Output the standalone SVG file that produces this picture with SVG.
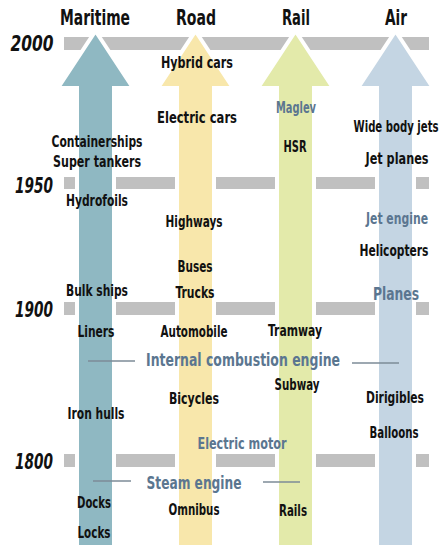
<svg xmlns="http://www.w3.org/2000/svg" width="442" height="545" viewBox="0 0 442 545">
<style>
text{font-family:"DejaVu Sans Condensed","DejaVu Sans",sans-serif;font-weight:bold;text-anchor:middle}
.t{font-size:21px;fill:#111}
.y{font-size:21px;font-style:italic;fill:#111}
.i{font-size:15px;fill:#111}
.e{fill:#5b7690}
.bar{fill:#c0c0c0}
.ar{stroke:#fff;stroke-width:4;stroke-linejoin:miter}
.ln{stroke:#7d8b97;stroke-width:1.5}
</style>
<rect width="442" height="545" fill="#fff"/>
<g id="timeline">
<rect class="bar" x="64" y="37" width="365" height="13"/>
<rect class="bar" x="64" y="177" width="365" height="12"/>
<rect class="bar" x="64" y="302" width="365" height="13"/>
<rect class="bar" x="64" y="454" width="365" height="13"/>
<text class="y" x="32" y="51" textLength="43" lengthAdjust="spacingAndGlyphs">2000</text>
<text class="y" x="34" y="193" textLength="38" lengthAdjust="spacingAndGlyphs">1950</text>
<text class="y" x="34" y="317" textLength="38" lengthAdjust="spacingAndGlyphs">1900</text>
<text class="y" x="34" y="469" textLength="38" lengthAdjust="spacingAndGlyphs">1800</text>
</g>
<g id="maritime">
<polygon class="ar" fill="#8fb8c2" points="95.5,31 133,88 114,88 114,547 77,547 77,88 58,88"/>
<text class="t" x="95" y="25" textLength="70" lengthAdjust="spacingAndGlyphs">Maritime</text>
<text class="i" x="97" y="147" textLength="91" lengthAdjust="spacingAndGlyphs">Containerships</text>
<text class="i" x="97" y="167" textLength="88" lengthAdjust="spacingAndGlyphs">Super tankers</text>
<text class="i" x="97" y="206" textLength="62" lengthAdjust="spacingAndGlyphs">Hydrofoils</text>
<text class="i" x="97" y="296" textLength="62" lengthAdjust="spacingAndGlyphs">Bulk ships</text>
<text class="i" x="96" y="337" textLength="37" lengthAdjust="spacingAndGlyphs">Liners</text>
<text class="i" x="96" y="419" textLength="57" lengthAdjust="spacingAndGlyphs">Iron hulls</text>
<text class="i" x="94" y="508" textLength="34" lengthAdjust="spacingAndGlyphs">Docks</text>
<text class="i" x="94" y="538" textLength="33" lengthAdjust="spacingAndGlyphs">Locks</text>
</g>
<g id="road">
<polygon class="ar" fill="#f8e7ab" points="195.5,31 233,88 214,88 214,547 177,547 177,88 158,88"/>
<text class="t" x="196" y="25" textLength="40" lengthAdjust="spacingAndGlyphs">Road</text>
<text class="i" x="197" y="68" textLength="72" lengthAdjust="spacingAndGlyphs">Hybrid cars</text>
<text class="i" x="197" y="123" textLength="80" lengthAdjust="spacingAndGlyphs">Electric cars</text>
<text class="i" x="194" y="227" textLength="57" lengthAdjust="spacingAndGlyphs">Highways</text>
<text class="i" x="195" y="272" textLength="35" lengthAdjust="spacingAndGlyphs">Buses</text>
<text class="i" x="195" y="298" textLength="39" lengthAdjust="spacingAndGlyphs">Trucks</text>
<text class="i" x="194" y="337" textLength="67" lengthAdjust="spacingAndGlyphs">Automobile</text>
<text class="i" x="194" y="404" textLength="50" lengthAdjust="spacingAndGlyphs">Bicycles</text>
<text class="i" x="194" y="515" textLength="51" lengthAdjust="spacingAndGlyphs">Omnibus</text>
</g>
<g id="rail">
<polygon class="ar" fill="#e3eaaa" points="295.5,31 333,88 314,88 314,547 277,547 277,88 258,88"/>
<text class="t" x="296" y="25" textLength="28" lengthAdjust="spacingAndGlyphs">Rail</text>
<text class="i e" x="296" y="113" textLength="40" lengthAdjust="spacingAndGlyphs">Maglev</text>
<text class="i" x="295" y="152" textLength="23" lengthAdjust="spacingAndGlyphs">HSR</text>
<text class="i" x="295" y="336" textLength="54" lengthAdjust="spacingAndGlyphs">Tramway</text>
<text class="i" x="297" y="390" textLength="45" lengthAdjust="spacingAndGlyphs">Subway</text>
<text class="i" x="293" y="516" textLength="28" lengthAdjust="spacingAndGlyphs">Rails</text>
</g>
<g id="air">
<polygon class="ar" fill="#c4d5e3" points="395.5,31 433,88 414,88 414,547 377,547 377,88 358,88"/>
<text class="t" x="396" y="25" textLength="22" lengthAdjust="spacingAndGlyphs">Air</text>
<text class="i" x="396" y="132" textLength="85" lengthAdjust="spacingAndGlyphs">Wide body jets</text>
<text class="i" x="397" y="164" textLength="63" lengthAdjust="spacingAndGlyphs">Jet planes</text>
<text class="i e" x="397" y="224" textLength="62" lengthAdjust="spacingAndGlyphs">Jet engine</text>
<text class="i" x="394" y="256" textLength="69" lengthAdjust="spacingAndGlyphs">Helicopters</text>
<text class="e" x="396" y="300" font-size="18" textLength="46" lengthAdjust="spacingAndGlyphs">Planes</text>
<text class="i" x="395" y="403" textLength="58" lengthAdjust="spacingAndGlyphs">Dirigibles</text>
<text class="i" x="394" y="438" textLength="49" lengthAdjust="spacingAndGlyphs">Balloons</text>
</g>
<g id="connectors">
<line class="ln" x1="88" y1="361" x2="135" y2="361"/>
<line class="ln" x1="352" y1="363" x2="399" y2="363"/>
<line class="ln" x1="93" y1="481" x2="131" y2="481"/>
<line class="ln" x1="263" y1="482" x2="300" y2="482"/>
</g>
<g id="engines">
<text class="e" x="243" y="366" font-size="18" textLength="194" lengthAdjust="spacingAndGlyphs">Internal combustion engine</text>
<text class="e" x="242" y="449" font-size="16" textLength="89" lengthAdjust="spacingAndGlyphs">Electric motor</text>
<text class="e" x="194" y="489" font-size="18" textLength="95" lengthAdjust="spacingAndGlyphs">Steam engine</text>
</g>
</svg>
